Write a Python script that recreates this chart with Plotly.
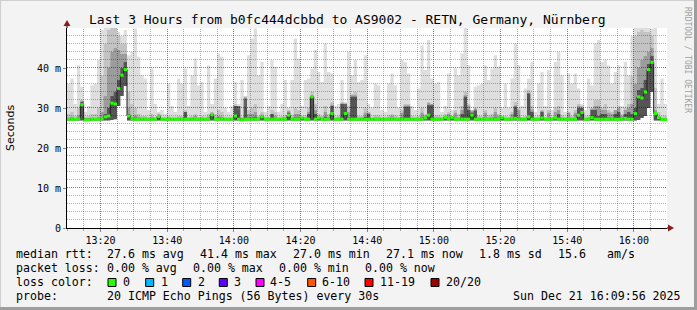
import pandas as pd
import plotly.graph_objects as go

# ---------------- data (values in ms, one value per minute) ----------------
start_time = "2025-12-21 13:09:56"
end_time = "2025-12-21 16:09:56"

ping_max = [
    36.0, 37.4, 31.0, 40.7, 35.3, 29.0, 30.5, 35.7, 36.0, 42.0,
    49.5, 50.7, 50.7, 50.7, 50.7, 49.0, 48.0, 49.5, 43.2, 44.0,
    49.9, 42.8, 38.2, 37.4, 29.5, 39.9, 31.0, 29.0, 29.5, 28.5,
    36.1, 30.5, 29.0, 37.4, 36.1, 39.9, 30.5, 38.2, 42.4, 35.7,
    36.5, 29.0, 40.7, 31.0, 37.4, 43.6, 42.8, 30.0, 29.0, 30.5,
    36.5, 29.5, 37.0, 30.0, 43.2, 47.4, 49.9, 38.2, 41.5, 29.0,
    30.5, 42.0, 40.3, 29.0, 31.0, 37.0, 30.0, 37.0, 47.4, 42.4,
    30.5, 37.0, 37.4, 39.9, 44.5, 39.0, 36.5, 46.1, 39.0, 38.6,
    30.5, 31.0, 37.0, 30.0, 44.0, 38.2, 42.0, 36.5, 37.0, 43.2,
    31.0, 30.0, 36.1, 35.7, 29.5, 29.0, 36.1, 38.6, 35.7, 30.0,
    42.0, 41.5, 38.6, 30.5, 29.5, 34.9, 45.7, 39.5, 47.0, 37.4,
    36.1, 36.5, 29.0, 30.5, 38.6, 29.5, 39.9, 38.2, 43.6, 50.3,
    40.7, 29.5, 35.3, 35.7, 36.1, 40.7, 37.0, 39.9, 43.2, 40.3,
    30.0, 36.1, 30.0, 37.4, 46.1, 40.7, 30.5, 34.9, 37.4, 41.5,
    29.0, 36.1, 39.0, 30.5, 39.5, 29.5, 41.5, 44.0, 38.2, 29.0,
    38.6, 36.1, 38.6, 34.9, 30.0, 29.5, 37.4, 35.7, 46.1, 47.0,
    41.5, 42.0, 40.7, 36.1, 39.0, 40.7, 30.5, 41.5, 38.2, 48.0,
    50.7, 50.7, 50.7, 50.7, 50.7, 49.9, 50.3, 31.0, 37.4, 31.0,
]

ping_p90 = [
    28.5, 29.0, 28.0, 30.0, 32.0, 27.8, 28.0, 28.5, 28.5, 30.0,
    38.0, 46.0, 49.5, 50.7, 50.7, 48.0, 46.0, 46.0, 34.0, 31.0,
    30.0, 28.5, 28.0, 28.0, 27.8, 28.5, 27.8, 28.6, 27.8, 27.8,
    28.0, 27.8, 27.8, 28.0, 28.0, 29.5, 27.8, 28.0, 28.5, 27.8,
    28.0, 27.8, 28.5, 29.0, 28.5, 29.5, 29.0, 27.8, 27.8, 27.8,
    31.0, 31.0, 27.8, 33.0, 29.5, 30.0, 31.0, 28.0, 29.0, 27.8,
    27.8, 29.5, 29.0, 27.8, 28.0, 28.2, 29.5, 28.2, 30.0, 29.5,
    27.8, 28.2, 30.0, 34.0, 31.0, 28.5, 28.0, 30.5, 28.5, 31.5,
    27.8, 28.0, 31.5, 31.5, 30.5, 33.5, 34.0, 28.0, 28.0, 30.0,
    29.0, 27.8, 28.2, 28.2, 27.8, 27.8, 28.2, 28.5, 28.2, 27.8,
    29.5, 31.0, 31.0, 28.0, 27.8, 28.0, 30.0, 28.5, 31.5, 31.0,
    28.2, 28.2, 27.8, 28.5, 29.0, 28.0, 29.5, 28.5, 30.5, 34.0,
    31.0, 29.5, 30.0, 28.2, 28.0, 29.5, 28.2, 28.5, 30.0, 28.5,
    28.0, 28.0, 27.8, 29.0, 31.5, 30.0, 27.8, 28.0, 34.5, 30.5,
    27.8, 28.0, 29.5, 27.8, 29.5, 27.8, 30.0, 30.5, 28.2, 27.8,
    29.0, 28.0, 29.5, 31.0, 31.0, 27.8, 28.2, 30.0, 32.0, 32.0,
    30.0, 31.0, 29.5, 29.0, 29.5, 30.5, 28.5, 30.0, 31.0, 38.0,
    48.0, 49.0, 49.5, 49.0, 49.0, 48.0, 35.0, 29.0, 28.0, 28.0,
]

ping_p75 = [
    27.6, 27.8, 27.5, 28.2, 31.8, 27.5, 27.5, 27.6, 27.5, 27.8,
    29.0, 33.0, 40.0, 44.0, 45.0, 44.5, 43.5, 43.5, 30.0, 27.8,
    28.2, 27.8, 27.6, 27.6, 27.5, 27.8, 27.5, 28.4, 27.5, 27.5,
    27.6, 27.5, 27.5, 27.6, 27.6, 29.0, 27.5, 27.6, 28.0, 27.5,
    27.6, 27.5, 27.8, 28.8, 27.6, 28.0, 27.8, 27.5, 27.5, 27.5,
    30.5, 30.5, 27.5, 32.8, 28.5, 28.5, 29.0, 27.6, 28.4, 27.5,
    27.5, 28.5, 28.0, 27.5, 27.5, 27.6, 29.2, 27.6, 28.5, 28.5,
    27.8, 27.6, 29.0, 33.2, 29.5, 27.8, 27.6, 29.0, 27.8, 30.8,
    27.5, 27.6, 31.2, 31.2, 29.0, 33.2, 33.2, 27.6, 27.6, 28.8,
    28.8, 27.5, 27.6, 27.6, 27.5, 27.5, 27.6, 28.0, 27.6, 27.5,
    28.8, 30.6, 30.6, 27.5, 27.5, 27.5, 28.8, 28.0, 31.2, 31.0,
    27.6, 27.6, 27.5, 27.8, 28.5, 27.8, 28.8, 27.6, 29.5, 33.2,
    30.5, 29.2, 29.8, 27.6, 27.5, 28.8, 27.6, 27.8, 29.0, 28.0,
    27.8, 27.5, 27.5, 28.5, 30.6, 29.5, 27.5, 27.5, 33.8, 29.6,
    27.5, 27.5, 29.3, 27.5, 28.8, 27.5, 29.0, 29.5, 27.6, 27.5,
    28.8, 27.5, 28.8, 30.5, 30.5, 27.5, 27.6, 29.8, 30.5, 30.5,
    29.5, 29.5, 28.8, 28.5, 29.5, 30.0, 28.0, 29.5, 30.0, 31.0,
    36.0, 40.0, 42.0, 43.0, 44.0, 45.0, 29.5, 27.8, 27.5, 27.5,
]

ping_p60 = [
    27.4, 27.4, 27.3, 27.6, 31.5, 27.3, 27.3, 27.4, 27.3, 27.5,
    27.5, 28.5, 30.0, 33.0, 34.0, 37.0, 40.0, 41.5, 28.5, 27.4,
    27.6, 27.4, 27.4, 27.3, 27.3, 27.4, 27.3, 28.2, 27.3, 27.3,
    27.3, 27.3, 27.3, 27.4, 27.4, 29.0, 27.3, 27.4, 27.5, 27.3,
    27.3, 27.3, 27.5, 28.5, 27.4, 27.6, 27.5, 27.3, 27.3, 27.3,
    30.5, 30.5, 27.3, 32.4, 27.6, 27.6, 27.8, 27.3, 28.0, 27.3,
    27.3, 28.5, 27.5, 27.3, 27.3, 27.4, 28.8, 27.4, 27.6, 27.6,
    27.6, 27.4, 28.5, 32.8, 28.5, 27.6, 27.4, 27.8, 27.4, 30.5,
    27.3, 27.3, 31.0, 31.0, 27.6, 32.8, 32.8, 27.4, 27.4, 27.8,
    28.5, 27.3, 27.4, 27.4, 27.3, 27.3, 27.4, 27.5, 27.4, 27.3,
    27.6, 30.3, 30.3, 27.3, 27.3, 27.3, 27.6, 27.6, 30.7, 30.7,
    27.4, 27.4, 27.3, 27.6, 27.5, 27.6, 27.5, 27.4, 28.5, 32.8,
    29.5, 28.8, 29.4, 27.4, 27.3, 27.5, 27.4, 27.4, 27.6, 27.4,
    27.6, 27.3, 27.3, 27.4, 30.3, 27.6, 27.3, 27.3, 33.6, 29.0,
    27.3, 27.3, 29.0, 27.3, 27.4, 27.3, 27.6, 28.5, 27.4, 27.3,
    27.5, 27.3, 27.5, 30.0, 30.0, 27.3, 27.4, 29.5, 29.5, 28.0,
    28.5, 28.5, 27.6, 27.4, 28.5, 29.0, 27.4, 28.5, 29.0, 28.5,
    30.0, 34.5, 35.0, 37.0, 41.0, 43.0, 28.2, 27.4, 27.3, 27.3,
]

ping_min = [
    26.9, 26.9, 26.9, 26.9, 26.9, 26.9, 26.9, 26.9, 26.9, 26.9,
    26.9, 26.9, 26.9, 27.0, 27.2, 30.5, 33.0, 35.5, 26.9, 26.9,
    26.9, 26.9, 26.9, 26.9, 26.9, 26.9, 26.9, 26.9, 26.9, 26.9,
    26.9, 26.9, 26.9, 26.9, 26.9, 26.9, 26.9, 26.9, 26.9, 26.9,
    26.9, 26.9, 26.9, 26.9, 26.9, 26.9, 26.9, 26.9, 26.9, 26.9,
    26.9, 26.9, 26.9, 26.9, 26.9, 26.9, 26.9, 26.9, 26.9, 26.9,
    26.9, 26.9, 26.9, 26.9, 26.9, 26.9, 26.9, 26.9, 26.9, 26.9,
    26.9, 26.9, 26.9, 26.9, 26.9, 26.9, 26.9, 26.9, 26.9, 26.9,
    26.9, 26.9, 26.9, 26.9, 26.9, 26.9, 26.9, 26.9, 26.9, 26.9,
    26.9, 26.9, 26.9, 26.9, 26.9, 26.9, 26.9, 26.9, 26.9, 26.9,
    26.9, 26.9, 26.9, 26.9, 26.9, 26.9, 26.9, 26.9, 26.9, 26.9,
    26.9, 26.9, 26.9, 26.9, 26.9, 26.9, 26.9, 26.9, 26.9, 26.9,
    26.9, 26.9, 26.9, 26.9, 26.9, 26.9, 26.9, 26.9, 26.9, 26.9,
    26.9, 26.9, 26.9, 26.9, 26.9, 26.9, 26.9, 26.9, 26.9, 26.9,
    26.9, 26.9, 26.9, 26.9, 26.9, 26.9, 26.9, 26.9, 26.9, 26.9,
    26.9, 26.9, 26.9, 26.9, 26.9, 26.9, 26.9, 26.9, 26.9, 26.9,
    26.9, 26.9, 26.9, 26.9, 26.9, 26.9, 26.9, 26.9, 26.9, 26.9,
    26.9, 27.0, 27.5, 28.0, 30.0, 34.0, 26.9, 26.9, 26.9, 26.9,
]

median_rtt = [
    27.2, 27.2, 27.2, 27.3, 30.8, 27.0, 27.0, 27.2, 27.2, 27.2,
    27.3, 27.8, 28.0, 31.2, 31.0, 34.9, 38.2, 39.6, 28.0, 27.3,
    27.2, 27.2, 27.2, 27.2, 27.2, 27.2, 27.2, 27.9, 27.2, 27.2,
    27.2, 27.2, 27.2, 27.2, 27.2, 27.2, 27.2, 27.2, 27.2, 27.2,
    27.2, 27.2, 27.2, 28.3, 27.2, 27.2, 27.2, 27.2, 27.2, 27.2,
    28.0, 27.2, 27.0, 27.2, 27.2, 27.2, 27.2, 27.2, 27.8, 27.2,
    27.2, 27.2, 27.2, 27.2, 27.2, 27.2, 28.2, 27.2, 27.2, 27.2,
    27.5, 27.2, 27.2, 32.8, 27.2, 27.5, 27.2, 27.2, 27.2, 28.6,
    27.2, 27.2, 27.2, 28.6, 27.2, 27.2, 27.2, 27.2, 27.2, 27.2,
    27.2, 27.2, 27.2, 27.2, 27.2, 27.2, 27.2, 27.2, 27.2, 27.2,
    27.2, 27.2, 27.2, 27.2, 27.2, 27.2, 27.2, 27.5, 28.2, 27.2,
    27.2, 27.2, 27.2, 27.6, 27.2, 27.6, 27.2, 27.2, 27.2, 27.2,
    27.2, 28.2, 27.2, 27.2, 27.2, 27.2, 27.2, 27.2, 27.2, 27.2,
    27.6, 27.2, 27.2, 27.2, 27.4, 27.2, 27.2, 27.2, 27.8, 27.2,
    27.2, 27.2, 27.5, 27.2, 27.2, 27.2, 27.5, 27.2, 27.2, 27.2,
    27.2, 27.2, 27.2, 28.2, 28.9, 27.2, 27.2, 27.6, 27.2, 27.2,
    27.2, 27.2, 27.2, 27.2, 27.2, 27.2, 27.2, 27.4, 27.2, 27.2,
    28.6, 32.8, 32.5, 34.0, 39.6, 41.4, 28.6, 27.6, 27.1, 27.1,
]

y_tick_vals = [0, 10, 20, 30, 40]
y_tick_text = ["0", "10 m", "20 m", "30 m", "40 m"]

title_text = "Last 3 Hours from b0fc444dcbbd to AS9002 - RETN, Germany, Nürnberg"
rtt_items = ["median rtt:", "27.6 ms avg", "41.4 ms max", "27.0 ms min", "27.1 ms now", "1.8 ms sd", "15.6", "am/s"]
loss_items = ["packet loss:", "0.00 % avg", "0.00 % max", "0.00 % min", "0.00 % now"]
probe_items = ["probe:", "20 ICMP Echo Pings (56 Bytes) every 30s"]
legend_date = "Sun Dec 21 16:09:56 2025"
loss_labels = ["0", "1", "2", "3", "4-5", "6-10", "11-19", "20/20"]
loss_colors = ["#26ff00", "#00b8ff", "#0059ff", "#5e00ff", "#ff00ff", "#ff5500", "#ff0000", "#a10000"]

# ---------------- geometry helpers (layout only) ----------------
W, H = 697, 310
PL, PR, PT, PB = 67, 667, 28, 228
Y_MAX = 50


def px(x):
    return (x - PL) / (PR - PL)


def py(y):
    return (PB - y) / (PB - PT)


def nb(s):
    return s.replace(" ", "\u00a0")


n = len(median_rtt)
steps = list(pd.date_range(start_time, periods=n + 1, freq="1min"))
t0, t1 = pd.Timestamp(start_time), pd.Timestamp(end_time)
span = t1 - t0


def step_vals(v):
    return list(v) + [v[-1]]


fig = go.Figure()

# smoke bands: translucent so the grid shows through, darker toward the centre
bands = [
    (ping_max, "rgba(0,0,0,0.13)"),
    (ping_p90, "rgba(0,0,0,0.12)"),
    (ping_p75, "rgba(0,0,0,0.2)"),
    (ping_p60, "rgba(0,0,0,0.45)"),
]
for upper, col in bands:
    fig.add_trace(go.Scatter(x=steps, y=step_vals(ping_min), mode="lines",
                             line=dict(width=0, shape="hv"), hoverinfo="skip"))
    fig.add_trace(go.Scatter(x=steps, y=step_vals(upper), mode="lines",
                             line=dict(width=0, shape="hv"), fill="tonexty",
                             fillcolor=col, hoverinfo="skip"))

# median line (dark) and loss-coloured median marks
fig.add_trace(go.Scatter(x=steps, y=step_vals(median_rtt), mode="lines",
                         line=dict(color="#202020", width=1, shape="hv"), hoverinfo="skip"))
gx, gy = [], []
for i, m in enumerate(median_rtt):
    gx += [steps[i], steps[i + 1], None]
    gy += [m, m, None]
fig.add_trace(go.Scatter(x=gx, y=gy, mode="lines", connectgaps=False,
                         line=dict(color=loss_colors[0], width=3), hoverinfo="skip"))

fig.update_layout(
    width=W, height=H,
    margin=dict(l=PL, r=W - PR, t=PT, b=H - PB),
    paper_bgcolor="#f3f3f3", plot_bgcolor="#ffffff",
    showlegend=False,
    font=dict(family="DejaVu Sans Mono", size=10, color="#000000"),
)
fig.update_xaxes(
    type="date", range=[start_time, end_time],
    tick0="2025-12-21 13:20:00", dtick=1200000, tickformat="%H:%M",
    showgrid=False, ticks="outside", ticklen=3, tickcolor="#888888",
    minor=dict(dtick=300000, tick0="2025-12-21 13:20:00", showgrid=False,
               ticks="outside", ticklen=2, tickcolor="#aaaaaa"),
    showline=True, linecolor="#000000", linewidth=1, zeroline=False,
    tickfont=dict(family="DejaVu Sans Mono", size=10),
)
fig.update_yaxes(
    range=[0, Y_MAX], tickmode="array", tickvals=y_tick_vals, ticktext=y_tick_text,
    showgrid=False, ticks="outside", ticklen=3, tickcolor="#888888",
    showline=True, linecolor="#000000", linewidth=1, zeroline=False,
    tickfont=dict(family="DejaVu Sans Mono", size=10),
)

shapes = []
# dotted grid in data coordinates, nudged onto pixel centres so the 1px dots stay crisp
dot = "1px,1px"
major_grid = "rgba(230,30,30,0.75)"
minor_grid = "rgba(0,0,0,0.3)"
for t in pd.date_range("2025-12-21 13:10:00", "2025-12-21 16:05:00", freq="5min"):
    xp = PL + (t - t0) / span * (PR - PL)
    if xp < PL + 2:
        continue
    ts = t0 + span * ((int(xp) + 0.5 - PL) / (PR - PL))
    col = major_grid if t.minute % 20 == 0 else minor_grid
    shapes.append(dict(type="line", xref="x", yref="y", layer="below",
                       x0=ts, x1=ts, y0=0, y1=Y_MAX, line=dict(color=col, width=1, dash=dot)))
for v in range(2, Y_MAX, 2):
    vs = v + 0.5 * Y_MAX / (PB - PT)
    col = major_grid if v % 10 == 0 else minor_grid
    shapes.append(dict(type="line", xref="x", yref="y", layer="below",
                       x0=t0, x1=t1, y0=vs, y1=vs, line=dict(color=col, width=1, dash=dot)))

# frame shading
shapes.append(dict(type="line", xref="paper", yref="paper", x0=px(0), x1=px(W), y0=py(0.5), y1=py(0.5),
                   line=dict(color="#cfcfcf", width=1)))
shapes.append(dict(type="line", xref="paper", yref="paper", x0=px(0.5), x1=px(0.5), y0=py(0), y1=py(H),
                   line=dict(color="#cfcfcf", width=1)))
shapes.append(dict(type="line", xref="paper", yref="paper", x0=px(0), x1=px(W), y0=py(H - 1.5), y1=py(H - 1.5),
                   line=dict(color="#9e9e9e", width=3)))
shapes.append(dict(type="line", xref="paper", yref="paper", x0=px(W - 1.5), x1=px(W - 1.5), y0=py(0), y1=py(H),
                   line=dict(color="#9e9e9e", width=3)))
# axis extensions + arrows
shapes.append(dict(type="line", xref="paper", yref="paper", x0=0, x1=0, y0=1, y1=py(24),
                   line=dict(color="#000000", width=1)))
shapes.append(dict(type="line", xref="paper", yref="paper", x0=1, x1=px(670), y0=0, y1=0,
                   line=dict(color="#000000", width=1)))
shapes.append(dict(type="path", xref="paper", yref="paper",
                   path=f"M {px(67)} {py(20)} L {px(63.5)} {py(26)} L {px(70.5)} {py(26)} Z",
                   fillcolor="#8b1c1c", line=dict(width=0)))
shapes.append(dict(type="path", xref="paper", yref="paper",
                   path=f"M {px(674)} {py(228)} L {px(668)} {py(224.5)} L {px(668)} {py(231.5)} Z",
                   fillcolor="#8b1c1c", line=dict(width=0)))

# loss colour boxes
box_left = [108, 145.7, 182.7, 219.3, 256, 307.7, 365, 431]
label_left = [123.3, 160.7, 197.7, 234.3, 270, 321.7, 380, 445.7]
for bx, col in zip(box_left, loss_colors):
    shapes.append(dict(type="rect", xref="paper", yref="paper",
                       x0=px(bx), x1=px(bx + 8), y0=py(286.5), y1=py(278.5),
                       fillcolor=col, line=dict(color="#000000", width=1)))

annotations = []


def add_text(text, x, y, size, xanchor="left", family="DejaVu Sans Mono", color="#000000", angle=0):
    annotations.append(dict(text=nb(text), x=px(x), y=py(y), xref="paper", yref="paper",
                            xanchor=xanchor, yanchor="middle", showarrow=False, textangle=angle,
                            font=dict(family=family, size=size, color=color), borderpad=0))


add_text(title_text, 347.5, 19, 13, xanchor="center")
add_text("Seconds", 10, 128, 11, xanchor="center", family="DejaVu Sans", angle=-90)
add_text("RRDTOOL / TOBI OETIKER", 688, 60, 8, xanchor="center", color="#a0a0a0", angle=90)
LS = 11.6
for txt, x in zip(rtt_items, [15, 106, 199, 292, 385, 478, 557, 606]):
    add_text(txt, x, 254, LS)
for txt, x in zip(loss_items, [15, 106, 192, 278, 364]):
    add_text(txt, x, 268, LS)
add_text("loss color:", 15, 282, LS)
for lx, lab in zip(label_left, loss_labels):
    add_text(lab, lx - 1, 282, LS)
for txt, x in zip(probe_items, [15, 106]):
    add_text(txt, x, 296, LS)
add_text(legend_date, 512, 296, LS)

fig.update_layout(shapes=shapes, annotations=annotations)
fig.write_html("out.html")
